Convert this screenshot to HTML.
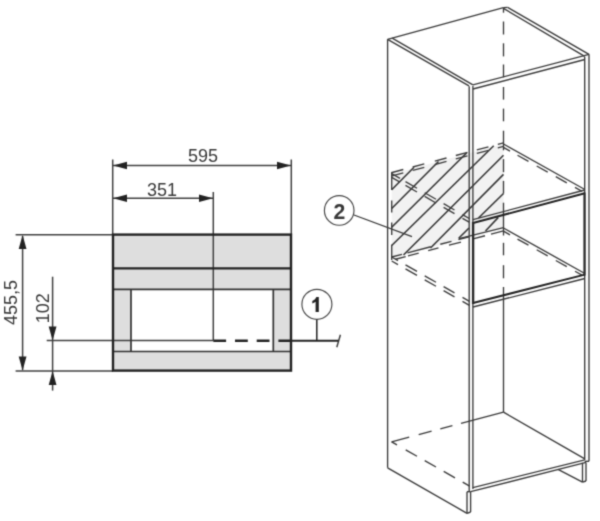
<!DOCTYPE html>
<html><head><meta charset="utf-8">
<style>
html,body{margin:0;padding:0;background:#fff;}
body{width:600px;height:521px;overflow:hidden;font-family:"Liberation Sans",sans-serif;}
svg{display:block;position:absolute;left:0;top:0;}
text{font-family:"Liberation Sans",sans-serif;fill:#383838;}
</style></head><body>
<svg width="600" height="521" viewBox="0 0 600 521">
<defs><filter id="soft" color-interpolation-filters="sRGB" x="0" y="0" width="600" height="521" filterUnits="userSpaceOnUse"><feConvolveMatrix order="3" kernelMatrix="1 4 1 4 16 4 1 4 1" divisor="36" edgeMode="duplicate" preserveAlpha="false"/></filter></defs>
<g filter="url(#soft)">
<rect width="600" height="521" fill="#fff"/>

<g id="front">
<rect x="113" y="234.6" width="178" height="136" fill="#dedede"/>
<rect x="131" y="289.5" width="142.3" height="62" fill="#fff"/>
<g stroke="#404040" stroke-width="1.5" fill="none">
<line x1="112.70" y1="159.50" x2="112.70" y2="235.00"/>
<line x1="291.30" y1="159.50" x2="291.30" y2="235.00"/>
<line x1="113.00" y1="165.50" x2="291.00" y2="165.50"/>
<line x1="113.00" y1="198.20" x2="213.00" y2="198.20"/>
<line x1="213.30" y1="192.00" x2="213.30" y2="340.60"/>
<line x1="15.60" y1="234.70" x2="113.00" y2="234.70"/>
<line x1="15.60" y1="370.90" x2="113.00" y2="370.90"/>
<line x1="22.60" y1="236.00" x2="22.60" y2="370.00"/>
<line x1="52.60" y1="276.70" x2="52.60" y2="390.60"/>
<line x1="46.70" y1="340.60" x2="213.00" y2="340.60"/>
<line x1="340.40" y1="334.70" x2="336.80" y2="347.20"/>
</g>
<g stroke="#333" stroke-width="1.7" fill="none">
<line x1="113.00" y1="289.30" x2="291.00" y2="289.30"/>
<line x1="113.00" y1="351.50" x2="291.00" y2="351.50"/>
<line x1="131.00" y1="289.30" x2="131.00" y2="351.50"/>
<line x1="273.30" y1="289.30" x2="273.30" y2="351.50"/>
</g>
<g stroke="#222" stroke-width="2.4" fill="none">
<rect x="113" y="234.6" width="178" height="136"/>
<line x1="113.00" y1="268.40" x2="291.00" y2="268.40"/>
<line x1="213.30" y1="340.80" x2="291.00" y2="340.80" stroke-dasharray="12.8 8.9"/>
<line x1="291.00" y1="340.80" x2="338.50" y2="340.80" stroke-width="2.1"/>
<line x1="316.80" y1="319.30" x2="316.80" y2="340.60" stroke-width="1.5"/>
</g>
<circle cx="316.9" cy="304.3" r="15" fill="#fff" stroke="#444" stroke-width="1.15"/>
<circle cx="339.2" cy="210.4" r="14.8" fill="#fff" stroke="#444" stroke-width="1.15"/>
<g fill="#222" stroke="none">
<polygon points="113,165.5 127,161.7 127,169.3"/>
<polygon points="291,165.5 277,161.7 277,169.3"/>
<polygon points="113,198.2 127,194.4 127,202"/>
<polygon points="213,198.2 199,194.4 199,202"/>
<polygon points="22.6,235 18.7,249 26.5,249"/>
<polygon points="22.6,370.6 18.7,356.6 26.5,356.6"/>
<polygon points="52.6,340.4 48.7,326.4 56.5,326.4"/>
<polygon points="52.6,371 48.7,385 56.5,385"/>
</g>
<text x="203" y="162" font-size="18" text-anchor="middle">595</text>
<text x="162" y="195.5" font-size="18" text-anchor="middle">351</text>
<text transform="translate(16.6,302.5) rotate(-90)" font-size="18" text-anchor="middle">455,5</text>
<text transform="translate(49.1,308.3) rotate(-90)" font-size="18" text-anchor="middle">102</text>
<path d="M318.8,297.1 L318.8,312.1 L315.6,312.1 L315.6,301.8 C314.6,302.6 313.4,303.2 312.3,303.5 L312.3,300.9 C314,300.3 315.6,299 316.4,297.1 Z" fill="#222"/>
<text x="339.5" y="218.7" font-size="21.2" font-weight="bold" text-anchor="middle" fill="#222">2</text>
</g>
<g id="cab" stroke="#3a3a3a" stroke-width="1.35" fill="none">
<polygon points="391.7,174 503.5,144 503.5,228 391.7,258" fill="#f2f2f2" stroke="none"/>
<g stroke-width="1.6" stroke="#363636">
<line x1="391.70" y1="189.80" x2="414.00" y2="167.30"/>
<line x1="391.70" y1="208.50" x2="438.50" y2="161.50"/>
<line x1="391.70" y1="227.30" x2="466.80" y2="152.80"/>
<line x1="391.70" y1="245.50" x2="493.70" y2="145.80"/>
<line x1="403.50" y1="255.00" x2="503.50" y2="155.20"/>
<line x1="430.50" y1="248.00" x2="503.50" y2="174.40"/>
<line x1="458.70" y1="238.30" x2="469.00" y2="228.00"/>
<line x1="478.50" y1="218.00" x2="503.50" y2="193.50"/>
<line x1="485.50" y1="231.00" x2="498.30" y2="217.40"/>
</g>
<line x1="387.60" y1="39.30" x2="503.40" y2="7.60"/>
<line x1="387.60" y1="39.30" x2="469.00" y2="85.90"/>
<line x1="392.20" y1="38.20" x2="472.90" y2="84.90"/>
<line x1="503.40" y1="7.60" x2="507.60" y2="7.30"/>
<line x1="507.60" y1="7.30" x2="589.00" y2="54.30"/>
<line x1="503.50" y1="8.40" x2="584.70" y2="56.30"/>
<line x1="472.90" y1="84.90" x2="589.00" y2="54.30"/>
<line x1="473.00" y1="89.00" x2="584.80" y2="59.50"/>
<line x1="387.60" y1="39.30" x2="387.60" y2="467.80"/>
<line x1="469.20" y1="86.20" x2="469.20" y2="491.70"/>
<line x1="472.90" y1="86.00" x2="472.90" y2="489.00"/>
<line x1="584.70" y1="56.80" x2="584.70" y2="460.00"/>
<line x1="589.00" y1="54.30" x2="589.00" y2="461.30"/>
<line x1="584.70" y1="461.30" x2="589.00" y2="461.30"/>
<line x1="503.50" y1="7.50" x2="503.50" y2="12.70"/>
<line x1="503.50" y1="21.50" x2="503.50" y2="34.50"/>
<line x1="503.50" y1="43.30" x2="503.50" y2="56.40"/>
<line x1="503.50" y1="64.50" x2="503.50" y2="77.30"/>
<line x1="503.50" y1="87.00" x2="503.50" y2="99.60"/>
<line x1="503.50" y1="108.60" x2="503.50" y2="121.30"/>
<line x1="503.50" y1="130.70" x2="503.50" y2="150.30"/>
<line x1="503.50" y1="159.10" x2="503.50" y2="172.20"/>
<line x1="503.50" y1="180.90" x2="503.50" y2="193.60"/>
<line x1="503.50" y1="202.70" x2="503.50" y2="235.50"/>
<line x1="503.50" y1="242.80" x2="503.50" y2="255.30"/>
<line x1="503.50" y1="265.20" x2="503.50" y2="278.30"/>
<line x1="503.50" y1="287.00" x2="503.50" y2="412.20"/>
<line x1="387.60" y1="467.80" x2="467.00" y2="513.30"/>
<line x1="467.00" y1="491.70" x2="467.00" y2="513.30"/>
<line x1="470.60" y1="491.70" x2="470.60" y2="512.00"/>
<line x1="467.00" y1="513.30" x2="470.60" y2="512.00"/>
<line x1="467.00" y1="491.70" x2="470.60" y2="491.70"/>
<line x1="472.90" y1="487.60" x2="584.80" y2="459.80"/>
<line x1="470.60" y1="491.70" x2="586.00" y2="462.40"/>
<line x1="503.50" y1="412.20" x2="584.80" y2="458.80"/>
<line x1="582.50" y1="462.80" x2="582.50" y2="482.20"/>
<line x1="586.00" y1="462.40" x2="586.00" y2="481.00"/>
<line x1="582.50" y1="482.20" x2="586.00" y2="481.00"/>
<line x1="558.00" y1="469.30" x2="582.50" y2="482.20"/>
<line x1="391.60" y1="441.80" x2="409.20" y2="437.14"/>
<line x1="418.70" y1="434.63" x2="431.60" y2="431.22"/>
<line x1="440.30" y1="428.92" x2="452.40" y2="425.72"/>
<line x1="461.00" y1="423.44" x2="503.50" y2="412.20"/>
<line x1="391.60" y1="441.80" x2="397.00" y2="444.87"/>
<line x1="405.70" y1="449.81" x2="417.00" y2="456.23"/>
<line x1="424.70" y1="460.60" x2="436.00" y2="467.02"/>
<line x1="443.70" y1="471.39" x2="455.00" y2="477.81"/>
<line x1="462.70" y1="482.18" x2="469.60" y2="486.10"/>
<line x1="503.50" y1="144.00" x2="584.80" y2="189.50"/>
<line x1="503.50" y1="147.40" x2="510.00" y2="151.04"/>
<line x1="517.50" y1="155.24" x2="528.50" y2="161.39"/>
<line x1="536.70" y1="165.98" x2="547.70" y2="172.14"/>
<line x1="555.80" y1="176.67" x2="566.80" y2="182.83"/>
<line x1="575.00" y1="187.42" x2="582.00" y2="191.33"/>
<line x1="473.00" y1="219.70" x2="584.80" y2="190.00"/>
<line x1="473.00" y1="223.00" x2="584.80" y2="193.30" stroke="#222" stroke-width="2"/>
<line x1="391.20" y1="172.73" x2="403.30" y2="169.51"/>
<line x1="412.70" y1="167.00" x2="424.30" y2="163.91"/>
<line x1="434.80" y1="161.11" x2="446.50" y2="157.99"/>
<line x1="455.80" y1="155.51" x2="467.50" y2="152.40"/>
<line x1="476.80" y1="149.92" x2="488.50" y2="146.80"/>
<line x1="497.80" y1="144.32" x2="503.50" y2="142.80"/>
<line x1="391.20" y1="176.13" x2="403.30" y2="172.92"/>
<line x1="412.70" y1="170.42" x2="424.30" y2="167.34"/>
<line x1="434.80" y1="164.55" x2="446.50" y2="161.44"/>
<line x1="455.80" y1="158.97" x2="467.50" y2="155.86"/>
<line x1="476.80" y1="153.39" x2="488.50" y2="150.28"/>
<line x1="497.80" y1="147.81" x2="503.50" y2="146.30"/>
<line x1="391.70" y1="173.60" x2="400.00" y2="178.41"/>
<line x1="405.50" y1="181.60" x2="417.00" y2="188.26"/>
<line x1="424.70" y1="192.72" x2="436.00" y2="199.27"/>
<line x1="443.60" y1="203.67" x2="454.50" y2="209.98"/>
<line x1="462.50" y1="214.62" x2="469.20" y2="218.50"/>
<line x1="391.70" y1="177.30" x2="400.00" y2="182.11"/>
<line x1="405.50" y1="185.30" x2="417.00" y2="191.96"/>
<line x1="424.70" y1="196.42" x2="436.00" y2="202.97"/>
<line x1="443.60" y1="207.37" x2="454.50" y2="213.68"/>
<line x1="462.50" y1="218.32" x2="469.20" y2="222.20"/>
<line x1="391.70" y1="172.50" x2="391.70" y2="190.00"/>
<line x1="391.70" y1="200.50" x2="391.70" y2="212.50"/>
<line x1="391.70" y1="222.50" x2="391.70" y2="235.00"/>
<line x1="391.70" y1="244.80" x2="391.70" y2="260.00"/>
<line x1="503.50" y1="228.00" x2="584.80" y2="273.50"/>
<line x1="503.50" y1="231.20" x2="510.00" y2="234.84"/>
<line x1="517.50" y1="239.04" x2="528.50" y2="245.19"/>
<line x1="536.70" y1="249.78" x2="547.70" y2="255.94"/>
<line x1="555.80" y1="260.47" x2="566.80" y2="266.63"/>
<line x1="575.00" y1="271.22" x2="582.00" y2="275.13"/>
<line x1="473.00" y1="303.00" x2="584.80" y2="274.60" stroke="#222" stroke-width="2"/>
<line x1="473.00" y1="307.00" x2="584.80" y2="278.50"/>
<line x1="503.50" y1="227.70" x2="459.00" y2="238.60"/>
<line x1="391.70" y1="257.00" x2="402.00" y2="254.30"/>
<line x1="407.50" y1="252.86" x2="430.80" y2="246.75"/>
<line x1="440.30" y1="244.26" x2="451.50" y2="241.33"/>
<line x1="458.40" y1="239.52" x2="469.00" y2="236.74"/>
<line x1="395.40" y1="259.23" x2="405.70" y2="256.53"/>
<line x1="408.00" y1="255.93" x2="418.70" y2="253.12"/>
<line x1="428.20" y1="250.63" x2="438.50" y2="247.93"/>
<line x1="449.00" y1="245.18" x2="461.00" y2="242.04"/>
<line x1="474.00" y1="238.63" x2="485.00" y2="235.75"/>
<line x1="491.00" y1="234.18" x2="503.50" y2="230.90"/>
<line x1="391.70" y1="257.00" x2="398.00" y2="260.59"/>
<line x1="405.50" y1="264.87" x2="417.00" y2="271.42"/>
<line x1="424.70" y1="275.81" x2="436.00" y2="282.26"/>
<line x1="443.60" y1="286.59" x2="454.50" y2="292.80"/>
<line x1="462.50" y1="297.37" x2="469.40" y2="301.30"/>
<line x1="391.70" y1="261.00" x2="398.00" y2="264.59"/>
<line x1="405.50" y1="268.87" x2="417.00" y2="275.42"/>
<line x1="424.70" y1="279.81" x2="436.00" y2="286.26"/>
<line x1="443.60" y1="290.59" x2="454.50" y2="296.80"/>
<line x1="462.50" y1="301.37" x2="469.40" y2="305.30"/>
<line x1="473.10" y1="222.00" x2="473.10" y2="304.00" stroke="#2a2a2a" stroke-width="2.4"/>
<line x1="584.50" y1="192.50" x2="584.50" y2="275.50" stroke="#2a2a2a" stroke-width="2.2"/>
</g>
<line x1="354" y1="215" x2="412" y2="236.6" stroke="#383838" stroke-width="1.25"/>
</g>
</svg>
</body></html>
